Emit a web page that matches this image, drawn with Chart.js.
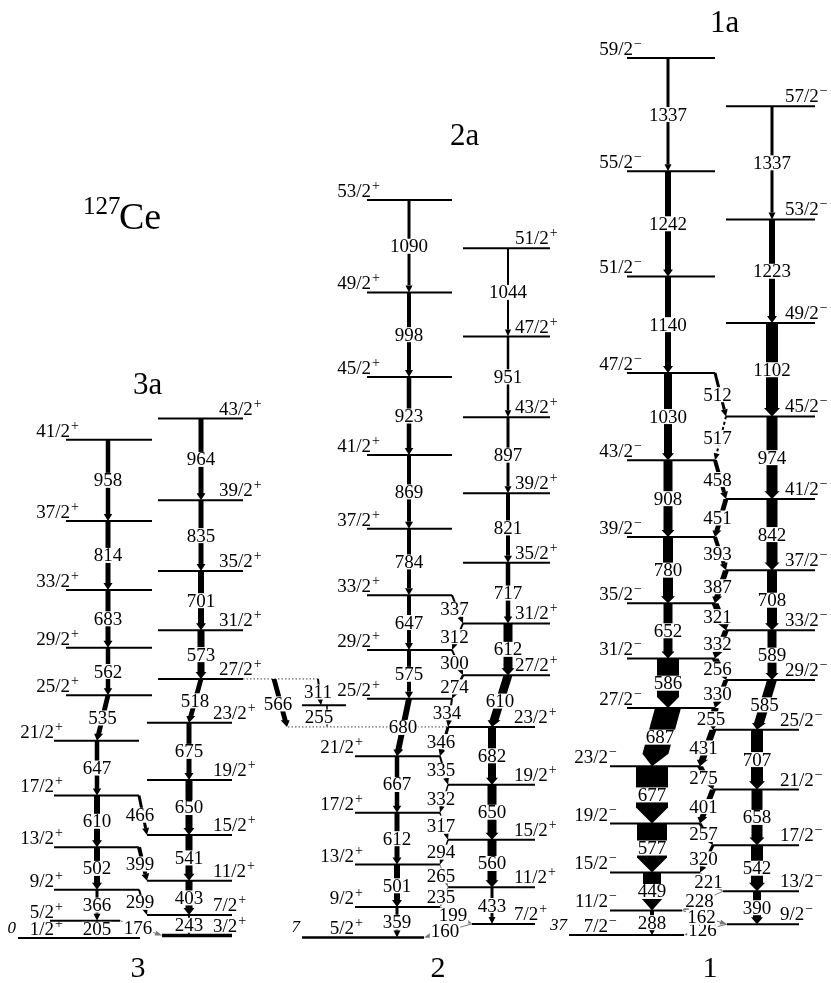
<!DOCTYPE html>
<html>
<head>
<meta charset="utf-8">
<title>127Ce level scheme</title>
<script src="https://cdn.jsdelivr.net/npm/chart.js@4.4.1/dist/chart.umd.min.js"></script>
<style>
  html, body { margin: 0; padding: 0; background: #ffffff; }
  canvas { display: block; }
</style>
</head>
<body>
<canvas id="scheme" width="831" height="983"></canvas>
<script>
// ---------------- Level energies (keV), spins and gamma rays ----------------
// Band 3 / 3a (positive parity): two signature partners
const band3L_spin  = ['1/2','5/2','9/2','13/2','17/2','21/2','25/2','29/2','33/2','37/2','41/2'];
const band3L_keV   = [0, 205, 571, 1073, 1683, 2330, 2865, 3427, 4110, 4924, 5882];
const band3L_gamma = [205, 366, 502, 610, 647, 535, 562, 683, 814, 958];
const band3L_rel   = [1.5, 3, 6, 6, 4.5, 5, 4.5, 5, 5, 4.5];

const band3R_spin  = ['3/2','7/2','11/2','15/2','19/2','23/2','27/2','31/2','35/2','39/2','43/2'];
const band3R_keV   = [29, 272, 675, 1216, 1866, 2541, 3059, 3632, 4333, 5168, 6132];
const band3R_gamma = [243, 403, 541, 650, 675, 518, 573, 701, 835, 964];
const band3R_rel   = [2, 7, 7, 7, 5, 5, 7, 6, 5, 5];

// zig-zag links 3/2->1/2, 5/2->3/2, 7/2->5/2 ... (null = not observed)
const band3_link_gamma = [null, 176, null, 299, null, 399, null, 466];
const band3_link_rel   = [0, 1, 0, 2, 0, 4, 0, 3];

// Band 2 / 2a (positive parity)
const band2L_spin  = ['5/2','9/2','13/2','17/2','21/2','25/2','29/2','33/2','37/2','41/2','45/2','49/2','53/2'];
const band2L_keV   = [7, 366, 867, 1479, 2146, 2826, 3401, 4048, 4832, 5701, 6624, 7622, 8712];
const band2L_gamma = [359, 501, 612, 667, 680, 575, 647, 784, 869, 923, 998, 1090];
const band2L_rel   = [3, 6, 5, 4.5, 6, 4, 4, 4, 4, 4.5, 4, 3];

const band2R_spin  = ['7/2','11/2','15/2','19/2','23/2','27/2','31/2','35/2','39/2','43/2','47/2','51/2'];
const band2R_keV   = [167, 600, 1160, 1810, 2492, 3102, 3714, 4431, 5252, 6149, 7100, 8144];
const band2R_gamma = [433, 560, 650, 682, 610, 612, 717, 821, 897, 951, 1044];
const band2R_rel   = [3, 9, 9, 8, 9, 9, 4.5, 4, 3, 2.5, 2];

const band2_link_gamma = [160, 199, 235, 265, 294, 317, 332, 335, 346, 334, 274, 300, 312, 337];
const band2_link_rel   = [1, 1, 1, 1, 1.5, 1.5, 1.5, 2, 3, 2, 2.5, 2, 2, 2];

// Band 1 / 1a (negative parity)
const band1L_spin  = ['7/2','11/2','15/2','19/2','23/2','27/2','31/2','35/2','39/2','43/2','47/2','51/2','55/2','59/2'];
const band1L_keV   = [37, 325, 774, 1351, 2028, 2715, 3301, 3953, 4733, 5641, 6671, 7811, 9053, 10390];
const band1L_gamma = [288, 449, 577, 677, 687, 586, 652, 780, 908, 1030, 1140, 1242, 1337];
const band1L_rel   = [4, 18, 30, 32, 26, 22, 9, 10, 9, 8, 6, 6, 3];

const band1R_spin  = ['9/2','13/2','17/2','21/2','25/2','29/2','33/2','37/2','41/2','45/2','49/2','53/2','57/2'];
const band1R_keV   = [163, 553, 1095, 1753, 2460, 3045, 3634, 4342, 5184, 6158, 7260, 8483, 9820];
const band1R_gamma = [390, 542, 658, 707, 585, 589, 708, 842, 974, 1102, 1223, 1337];
const band1R_rel   = [8, 12, 11, 12, 10, 9, 10, 11, 11, 12, 6, 3];

const band1_link_gamma = [126, 162, 228, 221, 320, 257, 401, 275, 431, 255, 330, 256, 332, 321, 387, 393, 451, 458, 517, 512];
const band1_link_rel   = [1, 1, 1, 1, 3, 3, 6, 6, 7, 7, 5, 7, 6, 7, 6, 4, 5, 4, 2, 3];

// Decay of 27/2+ (band 3a) into 23/2+ (band 2), directly and through an intermediate level
const side_keV    = [2748];
const cross_gamma = [566, 311, 255];
const cross_rel   = [5, 2, 1.5];

// ---------------- Layout (drawing positions, in x-axis units) ----------------
const FONT = '"Liberation Serif", "Times New Roman", serif';
const COLS = {
  '3L': { side: 'L', split: 6, lo: { x0: 54,  x1: 139, ax: 97,  lab: 63  }, hi: { x0: 66,  x1: 152, ax: 108, lab: 79  } },
  '3R': { side: 'R', split: 6, lo: { x0: 147, x1: 232, ax: 189, lab: 213 }, hi: { x0: 158, x1: 243, ax: 201, lab: 219 } },
  '2L': { side: 'L', split: 5, lo: { x0: 355, x1: 440, ax: 397, lab: 363 }, hi: { x0: 367, x1: 452, ax: 409, lab: 380 } },
  '2R': { side: 'R', split: 5, lo: { x0: 448, x1: 535, ax: 492, lab: 514 }, hi: { x0: 463, x1: 550, ax: 508, lab: 515 } },
  '1L': { side: 'L', split: 5, lo: { x0: 610, x1: 700, ax: 652, lab: 617 }, hi: { x0: 627, x1: 715, ax: 668, lab: 642 } },
  '1R': { side: 'R', split: 5, lo: { x0: 713, x1: 799, ax: 757, lab: 780 }, hi: { x0: 726, x1: 815, ax: 772, lab: 785 } }
};
const EXTENT = {
  '3L:0': [18, 140], '3L:1': [50, 120], '3R:0': [162, 232],
  '2L:0': [302, 424], '2R:0': [472, 535],
  '1L:0': [569, 684], '1L:1': [610, 682], '1R:0': [727, 799], '1R:1': [723, 799]
};
const THICK = { '3R:0': 3.5, '2L:0': 2.5 };
const DASHED = { '1:18': true, '2:5': true };

const BANDS = [
  { id: '3', parity: '+', L: { col: '3L', spin: band3L_spin, keV: band3L_keV, gamma: band3L_gamma, rel: band3L_rel },
    R: { col: '3R', spin: band3R_spin, keV: band3R_keV, gamma: band3R_gamma, rel: band3R_rel },
    linkGamma: band3_link_gamma, linkRel: band3_link_rel },
  { id: '2', parity: '+', L: { col: '2L', spin: band2L_spin, keV: band2L_keV, gamma: band2L_gamma, rel: band2L_rel },
    R: { col: '2R', spin: band2R_spin, keV: band2R_keV, gamma: band2R_gamma, rel: band2R_rel },
    linkGamma: band2_link_gamma, linkRel: band2_link_rel },
  { id: '1', parity: '\u2212', L: { col: '1L', spin: band1L_spin, keV: band1L_keV, gamma: band1L_gamma, rel: band1L_rel },
    R: { col: '1R', spin: band1R_spin, keV: band1R_keV, gamma: band1R_gamma, rel: band1R_rel },
    linkGamma: band1_link_gamma, linkRel: band1_link_rel }
];

// energy axis: 0.0847 px per keV, ground state 45 px above the bottom edge
const Y_MAX = 11074;
const Y_MIN = -531;

function seg(colId, i) {
  const c = COLS[colId];
  return i >= c.split ? c.hi : c.lo;
}
function extent(colId, i) {
  const o = EXTENT[colId + ':' + i];
  const s = seg(colId, i);
  return o ? o : [s.x0, s.x1];
}

// ---------------- Level lines as datasets ----------------
const levelSets = [];
function addLevel(x0, x1, e, w) {
  levelSets.push({
    data: [{ x: x0, y: e }, { x: x1, y: e }],
    showLine: true, borderColor: '#000', borderWidth: w || 2,
    pointRadius: 0, pointHoverRadius: 0, fill: false
  });
}
BANDS.forEach(b => {
  [b.L, b.R].forEach(c => {
    c.keV.forEach((e, i) => {
      const ex = extent(c.col, i);
      addLevel(ex[0], ex[1], e, THICK[c.col + ':' + i]);
    });
  });
});
addLevel(302, 346, side_keV[0], 2);
// dotted guides of the 27/2+ -> 23/2+ cross-band decay
const dotted = [
  { x0: 243, x1: 318, e: band3R_keV[6] },
  { x0: 288, x1: 448, e: band2R_keV[4] }
];
dotted.forEach(d => levelSets.push({
  data: [{ x: d.x0, y: d.e }, { x: d.x1, y: d.e }],
  showLine: true, borderColor: '#444', borderWidth: 1, borderDash: [1.5, 2],
  pointRadius: 0, fill: false
}));

// ---------------- Drawing helpers ----------------
function drawArrow(ctx, xa, ya, xb, yb, w, opt) {
  opt = opt || {};
  const dx = xb - xa, dy = yb - ya, len = Math.hypot(dx, dy);
  if (len < 1 || w <= 0) return;
  const ux = dx / len, uy = dy / len;
  ctx.save();
  ctx.fillStyle = opt.color || '#000';
  ctx.strokeStyle = opt.color || '#000';
  if (w <= 4) {
    const hl = Math.min(7, len * 0.5), hw = w + 4;
    const bx = xb - ux * hl, by = yb - uy * hl;
    ctx.lineWidth = w;
    ctx.setLineDash(opt.dash ? [3, 2.5] : []);
    ctx.beginPath(); ctx.moveTo(xa, ya); ctx.lineTo(bx, by); ctx.stroke();
    ctx.setLineDash([]);
    ctx.beginPath();
    ctx.moveTo(xb, yb);
    ctx.lineTo(bx - uy * hw / 2, by + ux * hw / 2);
    ctx.lineTo(bx + uy * hw / 2, by - ux * hw / 2);
    ctx.closePath(); ctx.fill();
  } else {
    const hw = w < 20 ? w + 4 : w;
    const hl = Math.min(w < 20 ? Math.max(7, w * 0.7) : w * 0.5, len * 0.6);
    const t = (len - hl) / len;
    const bx = xa + dx * t, by = ya + dy * t;
    ctx.beginPath();
    ctx.moveTo(xa - w / 2, ya);
    ctx.lineTo(xa + w / 2, ya);
    ctx.lineTo(bx + w / 2, by);
    ctx.lineTo(bx + hw / 2, by);
    ctx.lineTo(xb, yb);
    ctx.lineTo(bx - hw / 2, by);
    ctx.lineTo(bx - w / 2, by);
    ctx.closePath(); ctx.fill();
  }
  ctx.restore();
}

function boxedLabel(ctx, text, x, y, minW) {
  ctx.save();
  ctx.font = '19px ' + FONT;
  const w = Math.max(ctx.measureText(text).width + 2, minW || 0);
  ctx.fillStyle = '#fff';
  ctx.fillRect(x - w / 2, y - 7.5, w, 15);
  ctx.fillStyle = '#000';
  ctx.textAlign = 'center';
  ctx.textBaseline = 'middle';
  ctx.fillText(text, x, y + 1);
  ctx.restore();
}

function spinLabel(ctx, text, parity, x, y, align) {
  ctx.save();
  ctx.textAlign = 'left';
  ctx.textBaseline = 'alphabetic';
  ctx.font = '19px ' + FONT;
  const w1 = ctx.measureText(text).width;
  ctx.font = '14px ' + FONT;
  const w2 = ctx.measureText(parity).width;
  const start = align === 'right' ? x - w1 - w2 - 1 : x;
  ctx.fillStyle = '#000';
  ctx.font = '19px ' + FONT;
  ctx.fillText(text, start, y);
  ctx.font = '14px ' + FONT;
  ctx.fillText(parity, start + w1 + 1, y - 7);
  ctx.restore();
}

function plainText(ctx, text, x, y, size, align, style) {
  ctx.save();
  ctx.font = (style ? style + ' ' : '') + size + 'px ' + FONT;
  ctx.fillStyle = '#000';
  ctx.textAlign = align || 'left';
  ctx.textBaseline = 'alphabetic';
  ctx.fillText(text, x, y);
  ctx.restore();
}

// ---------------- Plugin: transitions and text ----------------
const schemePlugin = {
  id: 'levelScheme',
  afterDatasetsDraw(chart) {
    const ctx = chart.ctx;
    const X = v => chart.scales.x.getPixelForValue(v);
    const Y = v => chart.scales.y.getPixelForValue(v);
    const labels = [];

    BANDS.forEach(b => {
      // in-band E2 cascades
      [b.L, b.R].forEach(c => {
        c.gamma.forEach((g, j) => {
          const xa = X(seg(c.col, j + 1).ax), ya = Y(c.keV[j + 1]);
          const xb = X(seg(c.col, j).ax), yb = Y(c.keV[j]);
          drawArrow(ctx, xa, ya, xb, yb, c.rel[j]);
          labels.push([String(g), (xa + xb) / 2, (ya + yb) / 2, c.rel[j] + 4]);
        });
      });
      // zig-zag links between the signature partners
      b.linkGamma.forEach((g, k) => {
        if (g === null) return;
        const upIsL = (k + 1) % 2 === 0;
        const iU = Math.floor((k + 1) / 2), iD = Math.floor(k / 2);
        let xa, ya, xb, yb;
        if (upIsL) {
          xa = X(extent(b.L.col, iU)[1]); ya = Y(b.L.keV[iU]);
          xb = X(extent(b.R.col, iD)[0]); yb = Y(b.R.keV[iD]);
        } else {
          xa = X(extent(b.R.col, iU)[0]); ya = Y(b.R.keV[iU]);
          xb = X(extent(b.L.col, iD)[1]); yb = Y(b.L.keV[iD]);
        }
        const rel = b.linkRel[k];
        drawArrow(ctx, xa, ya, xb, yb, rel, {
          color: rel <= 1 ? '#777' : '#000',
          dash: DASHED[b.id + ':' + k]
        });
        labels.push([String(g), (xa + xb) / 2 - 3, (ya + yb) / 2, 0]);
      });
    });

    // 27/2+ (3a) -> 23/2+ (2)
    const eTop = band3R_keV[6], eBot = band2R_keV[4], eMid = side_keV[0];
    drawArrow(ctx, X(274), Y(eTop), X(287), Y(eBot), cross_rel[0]);
    labels.push([String(cross_gamma[0]), X(278), (Y(eTop) + Y(eBot)) / 2 + 1, 0]);
    drawArrow(ctx, X(318), Y(eTop), X(321), Y(eMid), cross_rel[1]);
    labels.push([String(cross_gamma[1]), X(318), (Y(eTop) + Y(eMid)) / 2, 0]);
    drawArrow(ctx, X(327), Y(eMid), X(327), Y(eBot), cross_rel[2]);
    labels.push([String(cross_gamma[2]), X(319), (Y(eMid) + Y(eBot)) / 2 + 1, 0]);

    // spin / parity labels
    BANDS.forEach(b => {
      [b.L, b.R].forEach(c => {
        const isL = COLS[c.col].side === 'L';
        c.spin.forEach((s, i) => {
          const sg = seg(c.col, i);
          spinLabel(ctx, s, b.parity, X(sg.lab), Y(c.keV[i]) - (isL ? 3 : 4), isL ? 'right' : 'left');
        });
      });
      // band-head energy (italic)
      const e0 = b.L.keV[0];
      plainText(ctx, String(e0), X(extent(b.L.col, 0)[0]) - 2, Y(e0) - 5, 17, 'right', 'italic');
    });

    // gamma-ray energies on white boxes
    labels.forEach(l => boxedLabel(ctx, l[0], l[1], l[2], l[3]));

    // band names, nucleus
    plainText(ctx, '1a', 710, 32, 31);
    plainText(ctx, '2a', 450, 145, 31);
    plainText(ctx, '3a', 133, 394, 31);
    plainText(ctx, '3', 138, 977, 30, 'center');
    plainText(ctx, '2', 438, 977, 30, 'center');
    plainText(ctx, '1', 710, 977, 30, 'center');
    plainText(ctx, '127', 83, 214, 25);
    plainText(ctx, 'Ce', 119, 229, 38);
  }
};

new Chart(document.getElementById('scheme').getContext('2d'), {
  type: 'scatter',
  data: { datasets: levelSets },
  options: {
    responsive: false,
    animation: false,
    events: [],
    layout: { padding: 0 },
    plugins: { legend: { display: false }, tooltip: { enabled: false } },
    scales: {
      x: { type: 'linear', min: 0, max: 831, display: false },
      y: { type: 'linear', min: Y_MIN, max: Y_MAX, display: false }
    }
  },
  plugins: [schemePlugin]
});
</script>
</body>
</html>
